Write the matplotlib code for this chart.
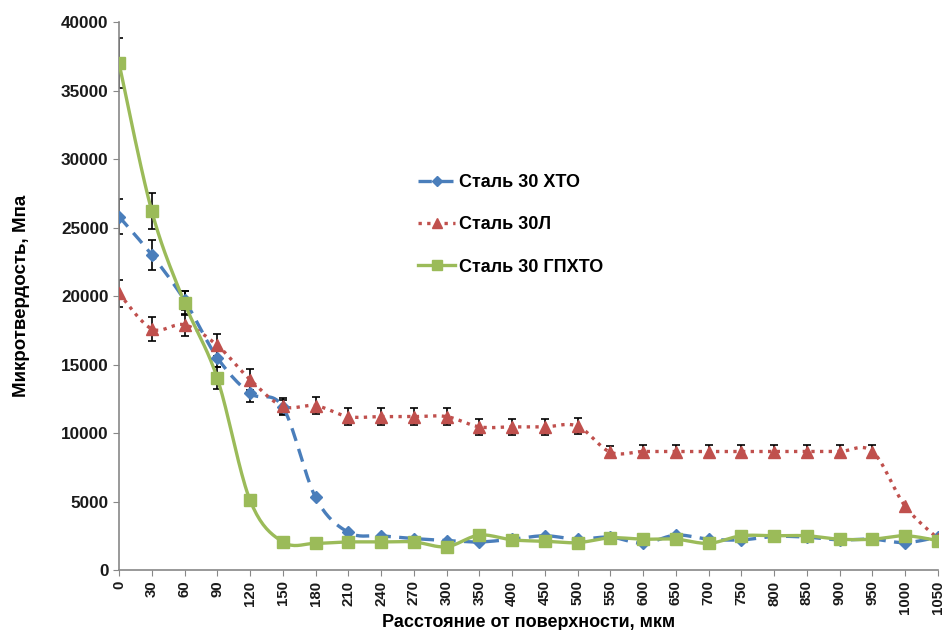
import numpy as np
import matplotlib
matplotlib.use("Agg")
import matplotlib.pyplot as plt

plt.rcParams["font.family"] = ["Liberation Sans", "DejaVu Sans"]
plt.rcParams["font.weight"] = "bold"

# distance from surface, um (categorical axis)
depth = ["0", "30", "60", "90", "120", "150", "180", "210", "240", "270", "300",
         "350", "400", "450", "500", "550", "600", "650", "700", "750", "800",
         "850", "900", "950", "1000", "1050"]

# microhardness, MPa
hto = [25800, 23000, 19700, 15500, 12900, 11900, 5300, 2750, 2500, 2300, 2150,
       2050, 2250, 2500, 2250, 2400, 1950, 2550, 2250, 2200, 2450,
       2400, 2200, 2250, 2000, 2400]
st30l = [20200, 17600, 17900, 16400, 13900, 11950, 12000, 11200, 11200, 11200, 11200,
         10450, 10450, 10450, 10500, 8600, 8650, 8650, 8650, 8650, 8650,
         8650, 8650, 8650, 4650, 2300]
gphto = [37000, 26200, 19500, 14000, 5100, 2050, 1950, 2050, 2050, 2050, 1700,
         2550, 2200, 2100, 2000, 2350, 2250, 2250, 1950, 2500, 2500,
         2500, 2250, 2250, 2500, 2150]

# error bars (0 = none)
hto_err = [1300, 1100, 700, 700, 600, 500] + [0] * 20
st30l_err = [1000, 900, 800, 800, 750, 600, 600, 600, 600, 600, 600,
             580, 580, 580, 580, 450, 450, 450, 450, 450, 450,
             450, 450, 450, 0, 0]
gphto_err = [1850, 1300, 900, 800] + [0] * 22

C_BLUE = "#4A7EBB"
C_RED = "#C0504D"
C_GREEN = "#9BBB59"


def smooth(y, n=20):
    """Catmull-Rom curve through the points (like Excel smoothed lines)."""
    y = np.asarray(y, float)
    x = np.arange(len(y), dtype=float)
    xp = np.concatenate([[x[0]], x, [x[-1]]])
    yp = np.concatenate([[y[0]], y, [y[-1]]])
    xs, ys = [], []
    for i in range(1, len(xp) - 2):
        t = np.linspace(0, 1, n, endpoint=False)
        for P, out in ((xp[i - 1:i + 3], xs), (yp[i - 1:i + 3], ys)):
            a, b, c, d = P
            out.extend(0.5 * (2 * b + (-a + c) * t + (2 * a - 5 * b + 4 * c - d) * t ** 2
                              + (-a + 3 * b - 3 * c + d) * t ** 3))
    xs.append(x[-1])
    ys.append(y[-1])
    return np.array(xs), np.array(ys)


fig = plt.figure(figsize=(9.46, 6.3), dpi=100)
ax = fig.add_axes([0.1258, 0.0952, 0.8657, 0.8698])
x = np.arange(len(depth))

series = [
    (hto, hto_err, C_BLUE, (0, (4, 2.5)), "D", 6, "Сталь 30 ХТО"),
    (st30l, st30l_err, C_RED, (0, (1, 1.6)), "^", 8, "Сталь 30Л"),
    (gphto, gphto_err, C_GREEN, "-", "s", 8, "Сталь 30 ГПХТО"),
]
handles = []
for vals, err, col, ls, mk, ms, lab in series:
    sx, sy = smooth(vals)
    ax.plot(sx, sy, color=col, lw=2.4, ls=ls, zorder=3)
    e = np.array(err, float)
    m = e > 0
    ax.errorbar(x[m], np.array(vals)[m], yerr=e[m], fmt="none", ecolor="black",
                elinewidth=1.2, capsize=3, capthick=1.2, zorder=2)
    ax.plot(x, vals, ls="none", marker=mk, ms=ms, color=col, zorder=4)
    handles.append(plt.Line2D([0], [0], color=col, lw=2.4, ls=ls, marker=mk,
                              ms=ms - 1, label=lab))

ax.legend(handles=handles, loc="upper left", bbox_to_anchor=(0.3455, 0.752),
          frameon=False, fontsize=13, labelspacing=1.4, handlelength=2.05,
          handletextpad=0.2)

ax.set_xlim(0, len(depth) - 1)
ax.set_ylim(0, 40000)
ax.set_yticks(np.arange(0, 40001, 5000))
ax.set_xticks(x)
ax.set_xticklabels(depth, rotation=90, fontsize=10.8, fontweight="bold")
for lbl in ax.get_yticklabels():
    lbl.set_fontsize(12.3)
    lbl.set_fontweight("bold")
ax.tick_params(axis="both", colors="#888888", labelcolor="#1a1a1a", length=4)
for s in ("top", "right"):
    ax.spines[s].set_visible(False)
for s in ("left", "bottom"):
    ax.spines[s].set_color("#888888")
    ax.spines[s].set_linewidth(1.2)

ax.set_xlabel("Расстояние от поверхности, мкм", fontsize=13, fontweight="bold")
ax.set_ylabel("Микротвердость, Мпа", fontsize=13.5, fontweight="bold")
ax.xaxis.set_label_coords(0.5, -0.0803)
ax.yaxis.set_label_coords(-0.1087, 0.5)

fig.savefig("out.png", dpi=100)
